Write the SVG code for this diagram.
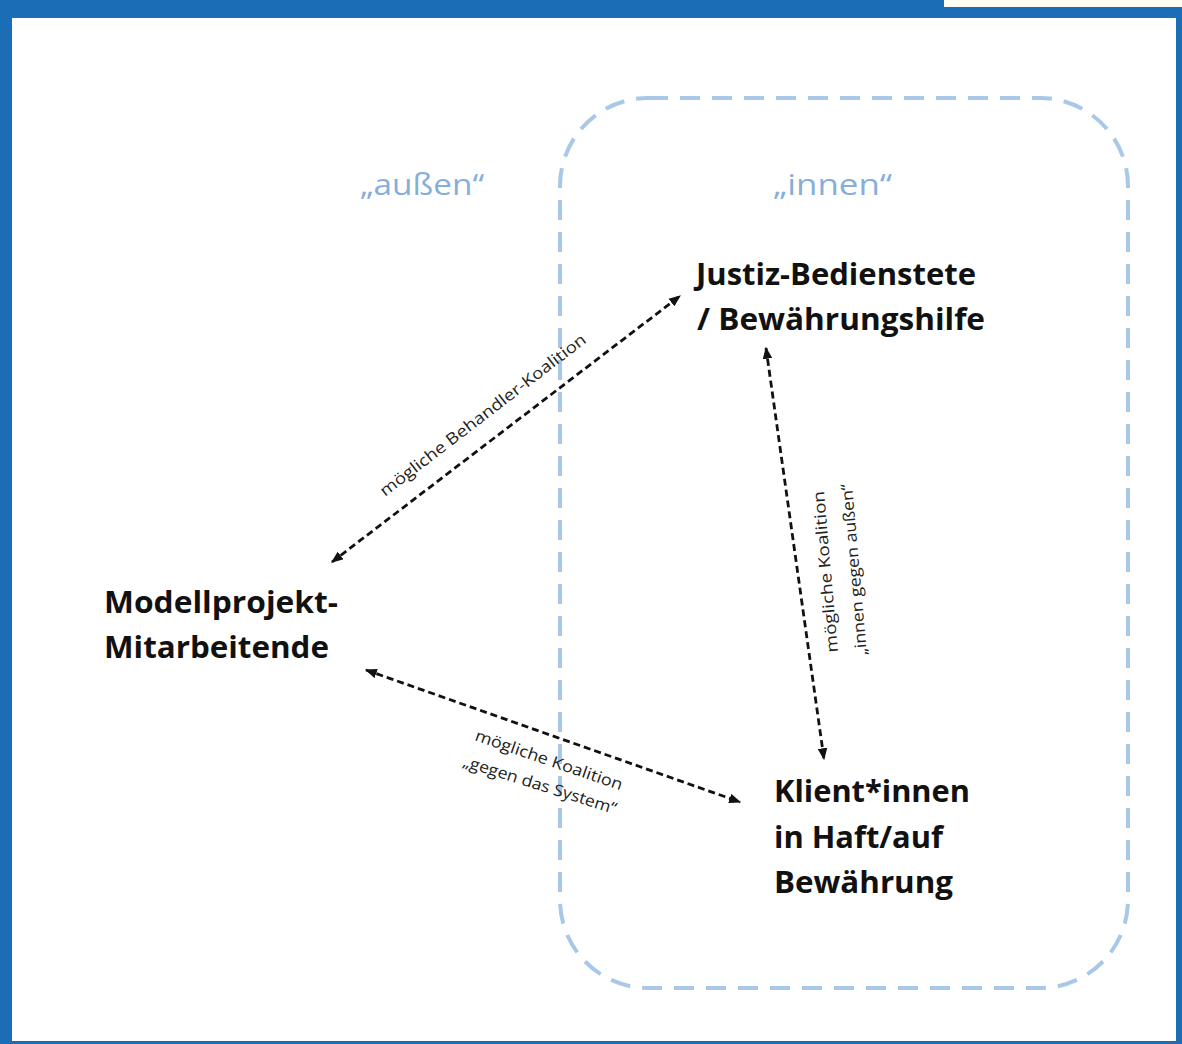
<svg xmlns="http://www.w3.org/2000/svg" width="1182" height="1044" viewBox="0 0 1182 1044">
  <style>
    .frame { fill: #1B6EB5; }
    .zone { fill: none; stroke: #A9C8E8; stroke-width: 4; stroke-dasharray: 20 12; }
    .zonelabel { font-family: "Open Sans", "Liberation Sans", sans-serif; font-size: 29px; fill: #86AEDC; }
    .node { font-family: "Open Sans", "Liberation Sans", sans-serif; font-weight: 700; font-size: 31px; fill: #111; }
    .conn { fill: none; stroke: #111; stroke-width: 2.8; stroke-dasharray: 7 4; marker-start: url(#arr); marker-end: url(#arr); }
    .clabel { font-family: "Open Sans", "Liberation Sans", sans-serif; font-size: 16px; fill: #222; }
  </style>
  <defs>
    <marker id="arr" viewBox="0 0 10 8" refX="9" refY="4" markerWidth="12" markerHeight="10" markerUnits="userSpaceOnUse" orient="auto-start-reverse">
      <path d="M0,0 L10,4 L0,8 z" fill="#111"/>
    </marker>
  </defs>
  <rect width="1182" height="1044" fill="#ffffff"/>
  <g id="frame">
    <rect x="944" y="0" width="238" height="8" fill="#FFFEF2"/>
    <rect class="frame" x="0" y="0" width="944" height="18"/>
    <rect class="frame" x="944" y="7" width="238" height="11"/>
    <rect class="frame" x="0" y="0" width="12" height="1044"/>
    <rect class="frame" x="1176" y="7" width="6" height="1037"/>
    <rect class="frame" x="0" y="1041" width="1182" height="3"/>
  </g>
  <g id="zone-innen">
    <rect class="zone" x="560" y="98" width="568" height="890" rx="88" ry="88"/>
  </g>
  <g id="label-aussen">
    <text class="zonelabel" x="360" y="195" textLength="124" lengthAdjust="spacingAndGlyphs">„außen“</text>
  </g>
  <g id="label-innen">
    <text class="zonelabel" x="773" y="195" textLength="119" lengthAdjust="spacingAndGlyphs">„innen“</text>
  </g>
  <g id="connectors">
    <line class="conn" x1="332" y1="562" x2="680" y2="296"/>
    <line class="conn" x1="766" y1="348" x2="824" y2="759"/>
    <line class="conn" x1="366" y1="670" x2="740" y2="802"/>
    <text class="clabel" x="385" y="497" transform="rotate(-37.5 385 497)" textLength="255" lengthAdjust="spacingAndGlyphs">mögliche Behandler-Koalition</text>
    <text class="clabel" x="838" y="652" transform="rotate(-95 838 652)" textLength="162" lengthAdjust="spacingAndGlyphs">mögliche Koalition</text>
    <text class="clabel" x="867" y="655" transform="rotate(-95 867 655)" textLength="172" lengthAdjust="spacingAndGlyphs">„innen gegen außen“</text>
    <text class="clabel" x="474" y="740" transform="rotate(19 474 740)" textLength="155" lengthAdjust="spacingAndGlyphs">mögliche Koalition</text>
    <text class="clabel" x="462" y="766" transform="rotate(17.5 462 766)" textLength="160" lengthAdjust="spacingAndGlyphs">„gegen das System“</text>
  </g>
  <g id="node-justiz">
    <text class="node" x="696" y="285" textLength="280" lengthAdjust="spacingAndGlyphs">Justiz-Bedienstete</text>
    <text class="node" x="697" y="330" textLength="288" lengthAdjust="spacingAndGlyphs">/ Bewährungshilfe</text>
  </g>
  <g id="node-modellprojekt">
    <text class="node" x="104" y="613" textLength="234" lengthAdjust="spacingAndGlyphs">Modellprojekt-</text>
    <text class="node" x="104" y="658" textLength="225" lengthAdjust="spacingAndGlyphs">Mitarbeitende</text>
  </g>
  <g id="node-klient">
    <text class="node" x="774" y="802" textLength="196" lengthAdjust="spacingAndGlyphs">Klient*innen</text>
    <text class="node" x="774" y="848" textLength="169" lengthAdjust="spacingAndGlyphs">in Haft/auf</text>
    <text class="node" x="774" y="893" textLength="179" lengthAdjust="spacingAndGlyphs">Bewährung</text>
  </g>
</svg>
